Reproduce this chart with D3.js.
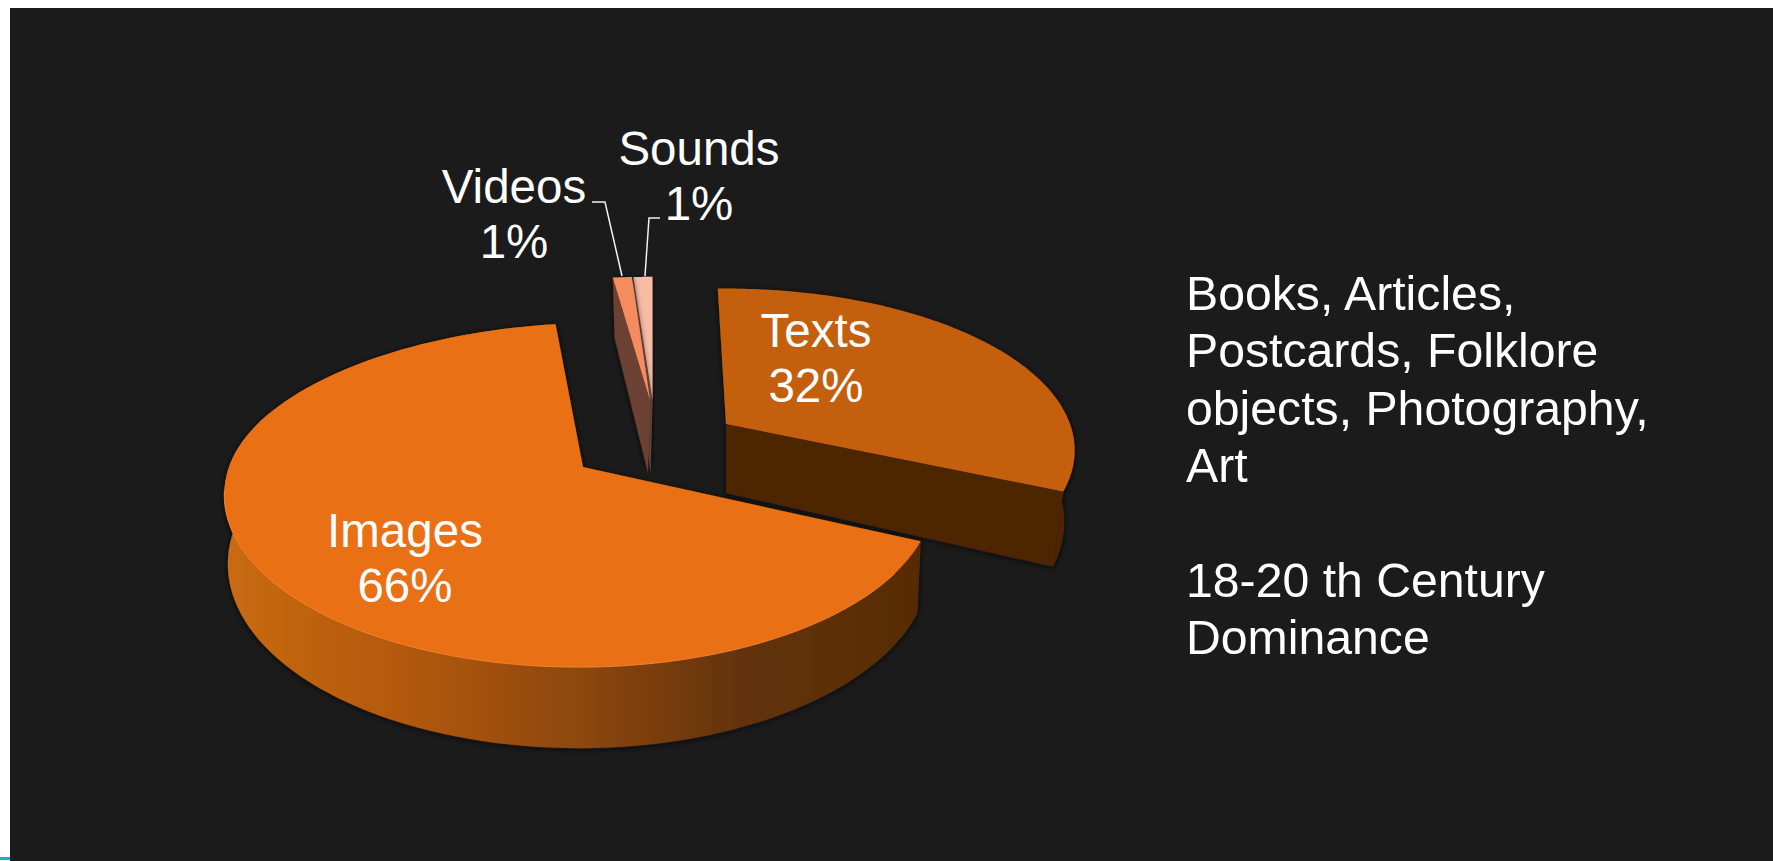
<!DOCTYPE html>
<html>
<head>
<meta charset="utf-8">
<script src="https://cdn.jsdelivr.net/npm/d3@7"></script>
<style>
    html, body { margin: 0; padding: 0; background: #fff; overflow: hidden; }
    text { font-family: "Liberation Sans", Arial, sans-serif; fill: #fff; }
</style>
</head>
<body>
<div id="chart"></div>
<script>
// chart values
var categories = ["Texts", "Images", "Videos", "Sounds"];
var values = [32, 66, 1, 1];
var noteLines = ["Books, Articles,", "Postcards, Folklore", "objects, Photography,", "Art", "", "18-20 th Century", "Dominance"];

// colours of each slice
var topColors = ["#c4600b", "#ea7012", "#f58b5f", "#f8bca5"];
var sideColors = ["#4e2505", "url(#imagesSide)", "#6c4030", "#7b5a4d"];

// how each slice is pulled out of the pie, in draw order of categories
var explode = [
    { x: 726, hub: 726, y: 424, r: 344, sy: 0.97, shear: 0, turn: -0.8, depth: 69, bx: 0.97, by: 1.09, faces: ["end", "arc"], arcFrom: 90 },
    { x: 579, hub: 583, y: 467, r: 350, sy: 1.014, shear: -0.13, turn: 0, depth: 67, bx: 0.99, by: 1.07, faces: ["arc"] },
    { x: 650, hub: 650, y: 400, r: 355, sy: 0.855, shear: 0, turn: 1, depth: 73, bx: 0.95, by: 1.10, faces: ["start"] },
    { x: 652.5, hub: 652.5, y: 400, r: 355, sy: 0.855, shear: 0, turn: 0.8, depth: 73, bx: 0.95, by: 1.10, faces: ["start"] }
];

// label anchors
var labelX = [816, 405, 514, 699];
var labelY = [347, 547, 203, 165];
var labelSize = 47.5;
var labelGap = 55;

// perspective of the tilted disc
var persp = 0.163;
var tilt = 0.472;

var svgWidth = 1773;
var svgHeight = 861;

var svg = d3.select("#chart")
    .append("svg")
    .attr("width", svgWidth)
    .attr("height", svgHeight)
    .style("display", "block");

svg.append("rect")
    .attr("x", 10)
    .attr("y", 8)
    .attr("width", svgWidth - 10)
    .attr("height", svgHeight - 8)
    .attr("fill", "#1b1b1b");

// blue sliver in the bottom corner
svg.append("rect")
    .attr("x", 0)
    .attr("y", 857)
    .attr("width", 10)
    .attr("height", 3)
    .attr("fill", "#1ea7e0");

var defs = svg.append("defs");

var grad = defs.append("linearGradient")
    .attr("id", "imagesSide")
    .attr("gradientUnits", "userSpaceOnUse")
    .attr("x1", 228).attr("x2", 920)
    .attr("y1", 0).attr("y2", 0);
grad.append("stop").attr("offset", "0").attr("stop-color", "#c96a12");
grad.append("stop").attr("offset", "0.25").attr("stop-color", "#b3590e");
grad.append("stop").attr("offset", "0.5").attr("stop-color", "#8e480b");
grad.append("stop").attr("offset", "0.75").attr("stop-color", "#623207");
grad.append("stop").attr("offset", "1").attr("stop-color", "#572c06");

var shadow = defs.append("filter")
    .attr("id", "soft")
    .attr("x", "-10%").attr("y", "-10%")
    .attr("width", "120%").attr("height", "120%");
shadow.append("feDropShadow")
    .attr("dx", 0).attr("dy", 1)
    .attr("stdDeviation", 3)
    .attr("flood-color", "#0c0c0c")
    .attr("flood-opacity", 0.8);

// slices start just left of twelve o'clock and run clockwise
var offset = -0.8 * Math.PI / 180;
var pie = d3.pie()
    .sort(null)
    .startAngle(offset)
    .endAngle(2 * Math.PI + offset);

var slices = pie(values);

function point(angle, s, lower) {
    var a = angle + s.turn * Math.PI / 180;
    var u = Math.sin(a);
    var v = -Math.cos(a);
    var w = 1 - persp * v;
    var xx = s.r * u / w;
    var yy = s.r * tilt * s.sy * v / w;
    // only the back half of the disc leans, growing towards the far edge
    var back = Math.min(yy, 0);
    var lean = -s.shear * back * back / 143;
    if (lower) {
        return [s.x + xx * s.bx + lean, s.y + s.depth + yy * s.by];
    }
    return [s.x + xx + lean, s.y + yy];
}

function arcPoints(a0, a1, s, lower) {
    var n = 120;
    return d3.range(n + 1).map(function(i) {
        return point(a0 + (a1 - a0) * i / n, s, lower);
    });
}

var line = d3.line().curve(d3.curveLinear);

var pieGroup = svg.append("g");

function drawSlice(i) {
    var d = slices[i];
    var s = explode[i];
    var a0 = d.startAngle;
    var a1 = d.endAngle;
    var g = pieGroup.append("g").attr("filter", "url(#soft)");

    s.faces.forEach(function(face) {
        var pts;
        if (face === "arc") {
            var from = s.arcFrom ? s.arcFrom * Math.PI / 180 : a0;
            pts = arcPoints(from, a1, s, false).concat(arcPoints(from, a1, s, true).reverse());
        } else {
            var a = face === "start" ? a0 : a1;
            pts = [point(a, s, false), [s.hub, s.y], [s.hub - (i > 1 ? 2 : 0), s.y + s.depth], point(a, s, true)];
        }
        g.append("path")
            .attr("d", line(pts) + "Z")
            .attr("fill", sideColors[i]);
    });

    var topPts = [[s.hub, s.y]].concat(arcPoints(a0, a1, s, false));
    g.append("path")
        .attr("d", line(topPts) + "Z")
        .attr("fill", topColors[i]);
}

// back to front
drawSlice(0);
drawSlice(1);
drawSlice(3);
drawSlice(2);

// light rim along the front of the big slice
pieGroup.append("path")
    .attr("d", line(arcPoints(125 * Math.PI / 180, 262 * Math.PI / 180, explode[1], false)))
    .attr("fill", "none")
    .attr("stroke", "#fb8d3a")
    .attr("stroke-opacity", 0.8)
    .attr("stroke-width", 1);

// leader lines for the two small slices
var leaders = [
    [[592, 202], [605, 202], [622, 276]],
    [[660, 218], [649, 218], [645, 276]]
];
svg.selectAll(".leader")
    .data(leaders)
    .enter()
    .append("path")
    .attr("class", "leader")
    .attr("d", function(d) { return line(d); })
    .attr("fill", "none")
    .attr("stroke", "#f2f2f2")
    .attr("stroke-width", 1.5);

// slice labels
categories.forEach(function(name, i) {
    var t = svg.append("text")
        .attr("text-anchor", "middle")
        .attr("font-size", labelSize);
    t.append("tspan").attr("x", labelX[i]).attr("y", labelY[i]).text(name);
    t.append("tspan").attr("x", labelX[i]).attr("y", labelY[i] + labelGap).text(values[i] + "%");
});

// note on the right
svg.append("g")
    .selectAll("text")
    .data(noteLines)
    .enter()
    .append("text")
    .attr("x", 1186)
    .attr("y", function(d, i) { return 310 + i * 57.4; })
    .attr("font-size", 48.2)
    .text(function(d) { return d; });
</script>
</body>
</html>
